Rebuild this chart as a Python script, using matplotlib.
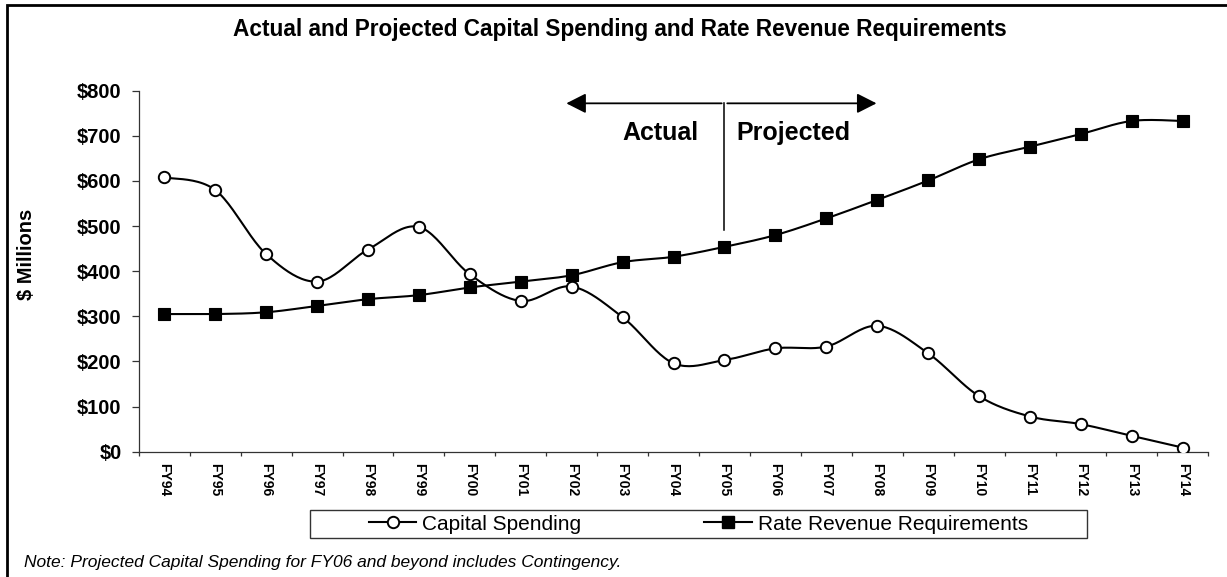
import numpy as np
import matplotlib
matplotlib.use("Agg")
import matplotlib.pyplot as plt
from matplotlib.patches import Rectangle, FancyArrowPatch
from matplotlib.lines import Line2D

plt.rcParams['font.family'] = ['Liberation Sans', 'DejaVu Sans']

# ---- data ($ millions) ----
fiscal_years = ['FY94', 'FY95', 'FY96', 'FY97', 'FY98', 'FY99', 'FY00', 'FY01',
                'FY02', 'FY03', 'FY04', 'FY05', 'FY06', 'FY07', 'FY08', 'FY09',
                'FY10', 'FY11', 'FY12', 'FY13', 'FY14']
capital_spending = [608, 580, 438, 377, 448, 498, 393, 334, 366, 298, 196,
                    203, 229, 233, 279, 218, 123, 78, 61, 35, 9]
rate_revenue = [305, 305, 309, 323, 338, 347, 364, 377, 391, 420, 432,
                454, 480, 517, 558, 601, 648, 676, 704, 733, 733]
y_ticks = [0, 100, 200, 300, 400, 500, 600, 700, 800]
y_tick_labels = ['$0', '$100', '$200', '$300', '$400', '$500', '$600', '$700', '$800']

title = 'Actual and Projected Capital Spending and Rate Revenue Requirements'
note = 'Note: Projected Capital Spending for FY06 and beyond includes Contingency.'
split_year = 'FY05'


def smooth(xs, ys, n=24):
    """Cubic Bezier smoothing through every point (Catmull-Rom style)."""
    p = np.column_stack([xs, ys]).astype(float)
    m = len(p)
    out = [p[0]]
    for i in range(m - 1):
        p0, p3 = p[i], p[i + 1]
        prev = p[i - 1] if i > 0 else p[i]
        nxt = p[i + 2] if i + 2 < m else p[i + 1]
        c1 = p0 + (p3 - prev) / 6.0
        c2 = p3 - (nxt - p0) / 6.0
        t = np.linspace(0, 1, n)[1:, None]
        seg = ((1 - t) ** 3) * p0 + 3 * ((1 - t) ** 2) * t * c1 \
            + 3 * (1 - t) * (t ** 2) * c2 + (t ** 3) * p3
        out.extend(seg)
    out = np.array(out)
    return out[:, 0], out[:, 1]


W, H = 1227, 577
fig = plt.figure(figsize=(W / 100, H / 100), dpi=100)
fig.patch.set_facecolor('white')

ax = fig.add_axes([138.8 / W, 1 - 451.7 / H, (1208.3 - 138.8) / W, (451.7 - 90.7) / H])
x = np.arange(len(fiscal_years))

lw = 1.5
circle_ms = 8.2
square_ms = 8.6
sx, sy = smooth(x, capital_spending)
ax.plot(sx, sy, color='black', lw=lw, zorder=3)
ax.plot(x, capital_spending, ls='none', marker='o', ms=circle_ms, mfc='white',
        mec='black', mew=1.4, zorder=4)

rx, ry = smooth(x, rate_revenue)
ax.plot(rx, ry, color='black', lw=lw, zorder=5)
ax.plot(x, rate_revenue, ls='none', marker='s', ms=square_ms, mfc='black',
        mec='black', mew=0.8, zorder=6)

ax.set_xlim(-0.5, len(fiscal_years) - 0.5)
ax.set_ylim(0, 800)

ax.spines['top'].set_visible(False)
ax.spines['right'].set_visible(False)
for s in ('left', 'bottom'):
    ax.spines[s].set_color('#333333')
    ax.spines[s].set_linewidth(0.9)

ax.set_yticks(y_ticks)
ax.set_yticklabels(y_tick_labels, fontsize=14.5, fontweight='bold')
ax.tick_params(axis='y', direction='out', length=5, width=0.9, pad=7.4, color='#333333')

ax.set_xticks(x)
ax.set_xticklabels(fiscal_years, rotation=270, fontsize=10, fontweight='bold')
ax.tick_params(axis='x', which='major', length=0, pad=8.3)
ax.set_xticks(np.arange(len(fiscal_years) + 1) - 0.5, minor=True)
ax.tick_params(axis='x', which='minor', direction='out', length=3, width=0.9, color='#333333')

# actual / projected divider
split = fiscal_years.index(split_year)
arrow_y = 772
ax.add_patch(FancyArrowPatch((split, arrow_y), (7.84, arrow_y),
                             arrowstyle='-|>,head_length=0.75,head_width=0.38',
                             mutation_scale=16, lw=1.3, color='black', zorder=7))
ax.add_patch(FancyArrowPatch((split, arrow_y), (14.04, arrow_y),
                             arrowstyle='-|>,head_length=0.75,head_width=0.38',
                             mutation_scale=16, lw=1.3, color='black', zorder=7))
ax.plot([split, split], [arrow_y, 491], color='black', lw=1.1, zorder=7)
ax.text(split - 0.51, 691, 'Actual', ha='right', va='baseline',
        fontsize=18, fontweight='bold')
ax.text(split + 0.23, 691, 'Projected', ha='left', va='baseline',
        fontsize=18, fontweight='bold')

# titles and note
fig.text(620 / W, 1 - 29.3 / H, title, ha='center', va='center',
         fontsize=16.3, fontweight='bold')
fig.text(26 / W, 1 - 254 / H, '$ Millions', rotation=90, ha='center',
         va='center', fontsize=14.5, fontweight='bold')
fig.text(24.5 / W, 1 - 563 / H, note, ha='left', va='center',
         fontsize=12.5, style='italic')

# legend
handles = [
    Line2D([], [], color='black', lw=lw, marker='o', ms=circle_ms, mfc='white',
           mec='black', mew=1.4),
    Line2D([], [], color='black', lw=lw, marker='s', ms=square_ms, mfc='black',
           mec='black'),
]
fig.legend(handles, ['Capital Spending', 'Rate Revenue Requirements'],
           loc='center', bbox_to_anchor=(698.5 / W, 1 - 524 / H), ncol=2,
           frameon=False, fontsize=15, handlelength=2.26, handletextpad=0.3,
           columnspacing=5.9, borderpad=0, borderaxespad=0)
fig.add_artist(Rectangle((310 / W, 1 - 538 / H), (1087 - 310) / W, 28 / H,
                         transform=fig.transFigure, fill=False,
                         edgecolor='#333333', lw=1.0))

# outer border
fig.add_artist(Rectangle((7 / W, -0.2), 1.5, (1 - 5 / H) + 0.2,
                         transform=fig.transFigure, fill=False,
                         edgecolor='black', lw=2.0, clip_on=False))

fig.savefig('out.png', dpi=100, facecolor='white')
